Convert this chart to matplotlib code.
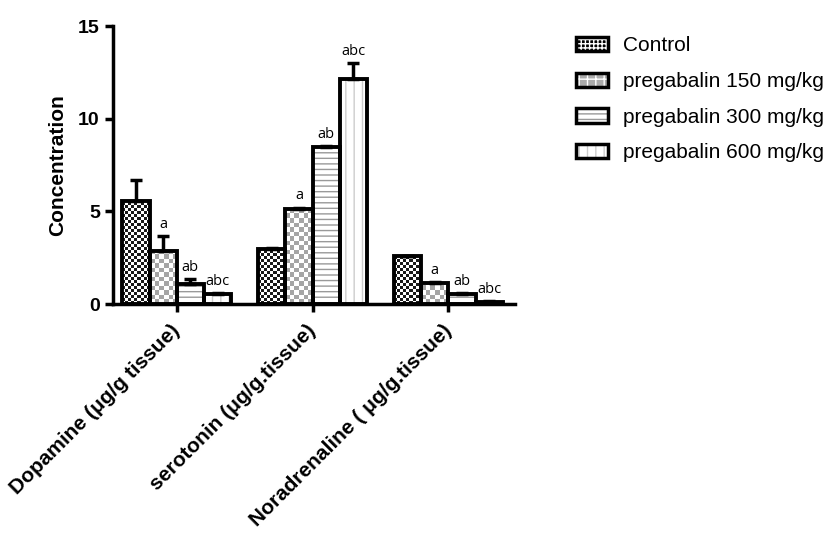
import numpy as np
import matplotlib.pyplot as plt
from matplotlib.patches import Patch

plt.rcParams['font.family'] = ['Liberation Sans', 'DejaVu Sans']

groups = ["Dopamine (\u03bcg/g tissue)", "serotonin (\u03bcg/g.tissue)", "Noradrenaline ( \u03bcg/g.tissue)"]
series = ["Control", "pregabalin 150 mg/kg", "pregabalin 300 mg/kg", "pregabalin 600 mg/kg"]
values = [
    [5.55, 2.95, 2.58],
    [2.85, 5.15, 1.15],
    [1.08, 8.45, 0.55],
    [0.55, 12.15, 0.12],
]
errors = [
    [1.15, 0.05, 0.03],
    [0.82, 0.05, 0.03],
    [0.27, 0.05, 0.03],
    [0.03, 0.85, 0.02],
]
letters = [
    ["", "", ""],
    ["a", "a", "a"],
    ["ab", "ab", "ab"],
    ["abc", "abc", "abc"],
]

fig = plt.figure(figsize=(8.35, 5.34), dpi=100)
ax = fig.add_axes([0.1353, 0.4307, 0.4815, 0.5206])

x = np.arange(len(groups))
w = 0.2
offsets = [-0.3, -0.1, 0.1, 0.3]
xlim = (-0.47, 2.49)
ylim = (0, 15)


def checker(bar, cell, c1, c2):
    # fill a bar with a checkerboard image clipped to the bar
    x0, y0 = bar.get_x(), bar.get_y()
    bw, bh = bar.get_width(), bar.get_height()
    px_x = 402 / (xlim[1] - xlim[0])
    px_y = 278 / (ylim[1] - ylim[0])
    nx = max(1, int(np.ceil(bw * px_x / cell)))
    ny = max(1, int(np.ceil(bh * px_y / cell)))
    ii, jj = np.indices((ny, nx))
    board = (ii + jj) % 2
    img = np.where(board[..., None] == 1, np.array(c1), np.array(c2))
    im = ax.imshow(img, extent=(x0, x0 + nx * cell / px_x, y0, y0 + ny * cell / px_y),
                   origin='lower', aspect='auto', interpolation='nearest', zorder=1)
    im.set_clip_path(bar)


for i, name in enumerate(series):
    xs = x + offsets[i]
    if i == 2:
        ax.bar(xs, values[i], w, color='white', edgecolor='#999999', hatch='---', lw=0, zorder=1)
    elif i == 3:
        ax.bar(xs, values[i], w, color='white', edgecolor='#cccccc', hatch='||', lw=0, zorder=1)
    bars = ax.bar(xs, values[i], w, facecolor='none', edgecolor='black', lw=2.8, zorder=3)
    if i == 0:
        for b in bars:
            checker(b, 3, (0.1, 0.1, 0.1), (1, 1, 1))
    elif i == 1:
        for b in bars:
            checker(b, 4.5, (0.65, 0.65, 0.65), (1, 1, 1))
    ax.errorbar(xs, values[i], yerr=[np.zeros(3), errors[i]], fmt='none', ecolor='black',
                elinewidth=2.5, capsize=4, capthick=2.5, zorder=2)
    for j in range(3):
        if letters[i][j]:
            ax.annotate(letters[i][j], (xs[j], values[i][j] + errors[i][j]), xytext=(0, 3),
                        textcoords='offset points', ha='center', va='bottom',
                        fontsize=10.5, family=['Open Sans', 'DejaVu Sans'])

ax.set_xlim(*xlim)
ax.set_ylim(*ylim)
ax.set_yticks([0, 5, 10, 15])
ax.set_xticks(x)
ax.set_xticklabels(groups, rotation=45, ha='right', va='center', rotation_mode='anchor',
                   fontsize=15, fontweight='bold')
for lab in ax.get_yticklabels():
    lab.set_fontweight('bold')
    lab.set_fontsize(14)
ax.set_ylabel("Concentration", fontsize=15, fontweight='bold', labelpad=8)
ax.spines['top'].set_visible(False)
ax.spines['right'].set_visible(False)
ax.spines['left'].set_linewidth(2.5)
ax.spines['bottom'].set_linewidth(2.5)
ax.tick_params(width=2.5, length=6)
ax.tick_params(axis='x', pad=11)

edge = dict(facecolor='none', edgecolor='black', lw=2.5)
handles = [
    (Patch(facecolor='black', edgecolor='white', hatch='++++', lw=0), Patch(**edge)),
    (Patch(facecolor='#aaaaaa', edgecolor='white', hatch='++', lw=0), Patch(**edge)),
    (Patch(facecolor='white', edgecolor='#999999', hatch='---', lw=0), Patch(**edge)),
    (Patch(facecolor='white', edgecolor='#cccccc', hatch='||', lw=0), Patch(**edge)),
]
ax.legend(handles, series, loc='upper left', bbox_to_anchor=(1.1045, 1.03), frameon=False,
          fontsize=15, handlelength=1.55, handleheight=0.67, labelspacing=0.8,
          handletextpad=0.72)

fig.savefig("out.png", dpi=100)
